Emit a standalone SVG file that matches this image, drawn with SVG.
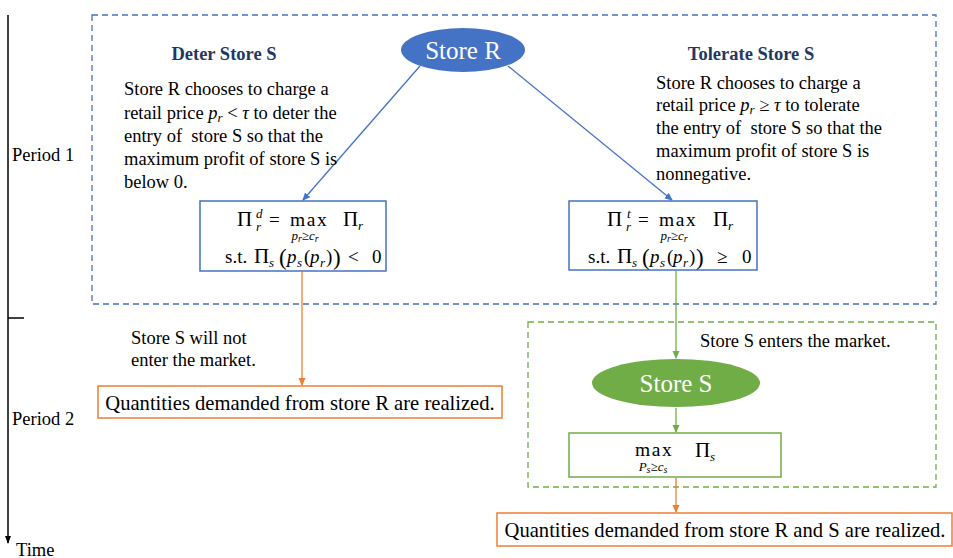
<svg xmlns="http://www.w3.org/2000/svg" width="953" height="558" viewBox="0 0 953 558" font-family="'Liberation Serif', 'Times New Roman', serif">
<defs>
<marker id="ab" markerWidth="8" markerHeight="8" refX="7" refY="4" orient="auto" markerUnits="userSpaceOnUse"><path d="M0,0.5 L8,4 L0,7.5 Z" fill="#4472C4"/></marker>
<marker id="ao" markerWidth="8" markerHeight="8" refX="7" refY="4" orient="auto" markerUnits="userSpaceOnUse"><path d="M0,0.5 L8,4 L0,7.5 Z" fill="#ED7D31"/></marker>
<marker id="ag" markerWidth="8" markerHeight="8" refX="7" refY="4" orient="auto" markerUnits="userSpaceOnUse"><path d="M0,0.5 L8,4 L0,7.5 Z" fill="#70AD47"/></marker>
<marker id="ak" markerWidth="8" markerHeight="8" refX="7" refY="4" orient="auto" markerUnits="userSpaceOnUse"><path d="M0,1 L8,4 L0,7 Z" fill="#000"/></marker>
</defs>
<style>
text{fill:#000}
.t{font-size:18.5px}
.h{font-size:18.5px;font-weight:bold;fill:#1F3864}
.m{font-size:19px}
.mx{font-size:19.5px;letter-spacing:1.6px}
.b{font-size:21px}
.p{font-size:23px}
.sb{font-size:13px;font-style:italic}
.ms{font-size:13px;font-style:italic}
.i{font-style:italic}
.w{fill:#fff;font-size:25px}
.q{font-size:20.6px}
</style>
<rect width="953" height="558" fill="#fff"/>
<g id="timeline">
<line x1="8" y1="15" x2="8" y2="543" stroke="#000" stroke-width="1.5" marker-end="url(#ak)"/>
<line x1="8" y1="318" x2="24" y2="318" stroke="#000" stroke-width="1.5"/>
<text x="12" y="161" class="t">Period 1</text>
<text x="12" y="425" class="t">Period 2</text>
<text x="16" y="556" class="t">Time</text>
</g>
<g id="period1-box"><rect x="92" y="15" width="844" height="289" fill="none" stroke="#4472C4" stroke-width="1.3" stroke-dasharray="6,4"/></g>
<g id="period2-box"><rect x="528" y="322" width="408" height="165" fill="none" stroke="#70AD47" stroke-width="1.3" stroke-dasharray="6,4"/></g>
<g id="connectors" fill="none" stroke-width="1.3">
<line x1="420" y1="66" x2="303" y2="200" stroke="#4472C4" marker-end="url(#ab)"/>
<line x1="508" y1="66" x2="672" y2="200" stroke="#4472C4" marker-end="url(#ab)"/>
<line x1="302" y1="272" x2="302" y2="385" stroke="#ED7D31" marker-end="url(#ao)"/>
<line x1="676" y1="271" x2="676" y2="358" stroke="#70AD47" marker-end="url(#ag)"/>
<line x1="676" y1="408" x2="676" y2="432" stroke="#70AD47" marker-end="url(#ag)"/>
<line x1="676" y1="478" x2="676" y2="512" stroke="#ED7D31" marker-end="url(#ao)"/>
</g>
<g id="store-r">
<ellipse cx="463" cy="50" rx="62" ry="22" fill="#4472C4"/>
<text x="463" y="59" class="w" text-anchor="middle">Store R</text>
</g>
<g id="deter-label">
<text x="224" y="60" class="h" text-anchor="middle">Deter Store S</text>
<text class="t"><tspan x="124" y="95">Store R chooses to charge a</tspan><tspan x="124" y="119">retail price <tspan class="i">p</tspan><tspan class="i" font-size="13" dy="3">r</tspan><tspan dy="-3"> &lt; </tspan><tspan class="i">τ</tspan> to deter the</tspan><tspan x="124" y="142">entry of&#160; store S so that the</tspan><tspan x="124" y="165">maximum profit of store S is</tspan><tspan x="124" y="188">below 0.</tspan></text>
</g>
<g id="tolerate-label">
<text x="751" y="60" class="h" text-anchor="middle">Tolerate Store S</text>
<text class="t"><tspan x="656" y="89">Store R chooses to charge a</tspan><tspan x="656" y="111">retail price <tspan class="i">p</tspan><tspan class="i" font-size="13" dy="3">r</tspan><tspan dy="-3"> ≥ </tspan><tspan class="i">τ</tspan> to tolerate</tspan><tspan x="656" y="134">the entry of&#160; store S so that the</tspan><tspan x="656" y="157">maximum profit of store S is</tspan><tspan x="656" y="180">nonnegative.</tspan></text>
</g>
<g id="deter-problem">
<rect x="200" y="201" width="186" height="70" fill="#fff" stroke="#4472C4" stroke-width="1.5"/>
<text class="b" x="237" y="226">Π</text>
<text class="sb" x="256" y="218">d</text>
<text class="sb" x="256" y="231">r</text>
<text class="m" x="269" y="226">=</text>
<text class="mx" x="290" y="226">max</text>
<text class="b" x="343" y="226">Π</text>
<text class="sb" x="358" y="230">r</text>
<text class="ms" x="305" y="240" text-anchor="middle">p<tspan font-size="10" dy="2">r</tspan><tspan dy="-2" font-style="normal">≥</tspan>c<tspan font-size="10" dy="2">r</tspan></text>
<text class="m" x="225" y="263">s.t.</text>
<text class="b" x="254" y="263">Π</text>
<text class="sb" x="269" y="267">s</text>
<text class="p" x="279" y="265">(</text>
<text class="m i" x="287" y="263">p</text>
<text class="sb" x="297" y="267">s</text>
<text class="m" x="304" y="263">(</text>
<text class="m i" x="310" y="263">p</text>
<text class="sb" x="320" y="267">r</text>
<text class="m" x="326" y="263">)</text>
<text class="p" x="333" y="265">)</text>
<text class="m" x="348" y="263">&lt;</text>
<text class="m" x="372" y="263">0</text>
</g>
<g id="tolerate-problem">
<rect x="569" y="201" width="188" height="69" fill="#fff" stroke="#4472C4" stroke-width="1.5"/>
<text class="b" x="607" y="226">Π</text>
<text class="sb" x="627" y="218">t</text>
<text class="sb" x="626" y="231">r</text>
<text class="m" x="638" y="226">=</text>
<text class="mx" x="659" y="226">max</text>
<text class="b" x="713" y="226">Π</text>
<text class="sb" x="728" y="230">r</text>
<text class="ms" x="674" y="240" text-anchor="middle">p<tspan font-size="10" dy="2">r</tspan><tspan dy="-2" font-style="normal">≥</tspan>c<tspan font-size="10" dy="2">r</tspan></text>
<text class="m" x="588" y="263">s.t.</text>
<text class="b" x="617" y="263">Π</text>
<text class="sb" x="632" y="267">s</text>
<text class="p" x="642" y="265">(</text>
<text class="m i" x="650" y="263">p</text>
<text class="sb" x="660" y="267">s</text>
<text class="m" x="667" y="263">(</text>
<text class="m i" x="673" y="263">p</text>
<text class="sb" x="683" y="267">r</text>
<text class="m" x="689" y="263">)</text>
<text class="p" x="696" y="265">)</text>
<text class="m" x="717" y="263">≥</text>
<text class="m" x="742" y="263">0</text>
</g>
<g id="no-entry-label">
<text class="t"><tspan x="131" y="344">Store S will not</tspan><tspan x="131" y="366">enter the market.</tspan></text>
</g>
<g id="r-realized">
<rect x="98" y="386" width="404" height="32" fill="#fff" stroke="#ED7D31" stroke-width="1.5"/>
<text x="300" y="410" class="q" text-anchor="middle">Quantities demanded from store R are realized.</text>
</g>
<g id="entry-label"><text x="700" y="347" class="t">Store S enters the market.</text></g>
<g id="store-s">
<ellipse cx="676" cy="383" rx="84" ry="24" fill="#70AD47"/>
<text x="676" y="392" class="w" text-anchor="middle">Store S</text>
</g>
<g id="s-problem">
<rect x="569" y="433" width="212" height="44" fill="#fff" stroke="#70AD47" stroke-width="1.5"/>
<text class="mx" x="635" y="456">max</text>
<text class="b" x="695" y="457">Π</text>
<text class="sb" x="710" y="461">s</text>
<text class="ms" x="653" y="471" text-anchor="middle">P<tspan font-size="10" dy="2">s</tspan><tspan dy="-2" font-style="normal">≥</tspan>c<tspan font-size="10" dy="2">s</tspan></text>
</g>
<g id="rs-realized">
<rect x="497" y="513" width="455" height="33" fill="#fff" stroke="#ED7D31" stroke-width="1.5"/>
<text x="725" y="537" class="q" text-anchor="middle">Quantities demanded from store R and S are realized.</text>
</g>
</svg>
